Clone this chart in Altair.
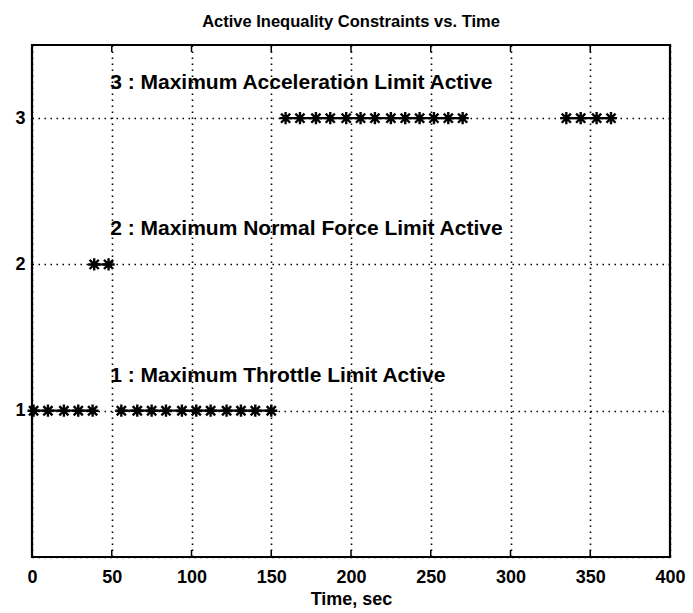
import altair as alt
import pandas as pd

# Data
t1 = [1, 10, 20, 29, 38, 56, 66, 75, 84, 94, 103, 112, 122, 131, 140, 150]
seg1 = ["a"] * 5 + ["b"] * 11
t2 = [39, 48]
seg2 = ["c", "c"]
t3 = [159, 168, 178, 187, 197, 206, 215, 225, 234, 243, 252, 261, 270, 335, 344, 354, 363]
seg3 = ["d"] * 13 + ["e"] * 4

label_text = ["3 : Maximum Acceleration Limit Active",
              "2 : Maximum Normal Force Limit Active",
              "1 : Maximum Throttle Limit Active"]
label_x = [49, 49, 49]
label_y = [3.24, 2.24, 1.24]

x_ticks = [0, 50, 100, 150, 200, 250, 300, 350, 400]
y_grid = [0, 0.5, 1, 1.5, 2, 2.5, 3, 3.5]

rows = []
for t, s in zip(t1, seg1):
    rows.append({"t": t, "c": 1, "seg": s})
for t, s in zip(t2, seg2):
    rows.append({"t": t, "c": 2, "seg": s})
for t, s in zip(t3, seg3):
    rows.append({"t": t, "c": 3, "seg": s})
df = pd.DataFrame(rows)
lab = pd.DataFrame({"text": label_text, "x": label_x, "y": label_y})

FONT = "Liberation Sans"
xs = alt.Scale(domain=[0, 400], nice=False)
ys = alt.Scale(domain=[0, 3.5], nice=False)

xaxis = alt.Axis(values=x_ticks, title="Time, sec", grid=True, gridDash=[1.5, 4.5],
                 gridColor="black", gridOpacity=1, gridWidth=1.6, ticks=False,
                 domain=False, labelFontSize=18, labelFont=FONT, labelColor="black",
                 labelFontWeight="bold", labelPadding=11, titleFontSize=18, titleFont=FONT,
                 titleFontWeight="bold", titleColor="black", titlePadding=4,
                 labelFlush=False, format="d")
yaxis = alt.Axis(values=y_grid, title=None, grid=True, gridDash=[1.5, 4.5],
                 gridColor="black", gridOpacity=1, gridWidth=1.6, ticks=False,
                 domain=False, labelFontSize=18, labelFont=FONT, labelColor="black",
                 labelFontWeight="bold", labelPadding=7, format="d",
                 labelExpr="(datum.value == 1 || datum.value == 2 || datum.value == 3) ? datum.label : ''")

base = alt.Chart(df)
line = base.mark_line(color="black", strokeWidth=2.2).encode(
    x=alt.X("t:Q", scale=xs, axis=xaxis),
    y=alt.Y("c:Q", scale=ys, axis=yaxis),
    detail="seg:N",
)
ast = "M-1,0L1,0M0,-1L0,1M-0.75,-0.75L0.75,0.75M-0.75,0.75L0.75,-0.75"
pts = base.mark_point(shape=ast, size=150, filled=False, stroke="black",
                      strokeWidth=2.4, opacity=1).encode(
    x=alt.X("t:Q", scale=xs), y=alt.Y("c:Q", scale=ys))

texts = alt.Chart(lab).mark_text(align="left", baseline="middle", fontSize=21,
                                 font=FONT, fontWeight="bold", color="black").encode(
    x=alt.X("x:Q", scale=xs), y=alt.Y("y:Q", scale=ys), text="text:N")

tick_df = pd.DataFrame({"t": x_ticks[1:-1]})
tb = alt.Chart(tick_df).mark_rule(color="black", strokeWidth=1.5).encode(
    x=alt.X("t:Q", scale=xs), y=alt.value(512), y2=alt.value(505))
tt = alt.Chart(tick_df).mark_rule(color="black", strokeWidth=1.5).encode(
    x=alt.X("t:Q", scale=xs), y=alt.value(0), y2=alt.value(7))

chart = alt.layer(line, pts, texts, tb, tt).properties(
    width=638, height=512,
    title=alt.TitleParams("Active Inequality Constraints vs. Time", fontSize=16.5,
                          font=FONT, fontWeight="bold", color="black", offset=14),
    autosize="none",
    padding={"left": 32, "top": 45, "right": 23, "bottom": 56},
).configure_view(stroke="black", strokeWidth=2.2)

chart.save("out.html", embed_options={"renderer": "svg", "actions": False})
